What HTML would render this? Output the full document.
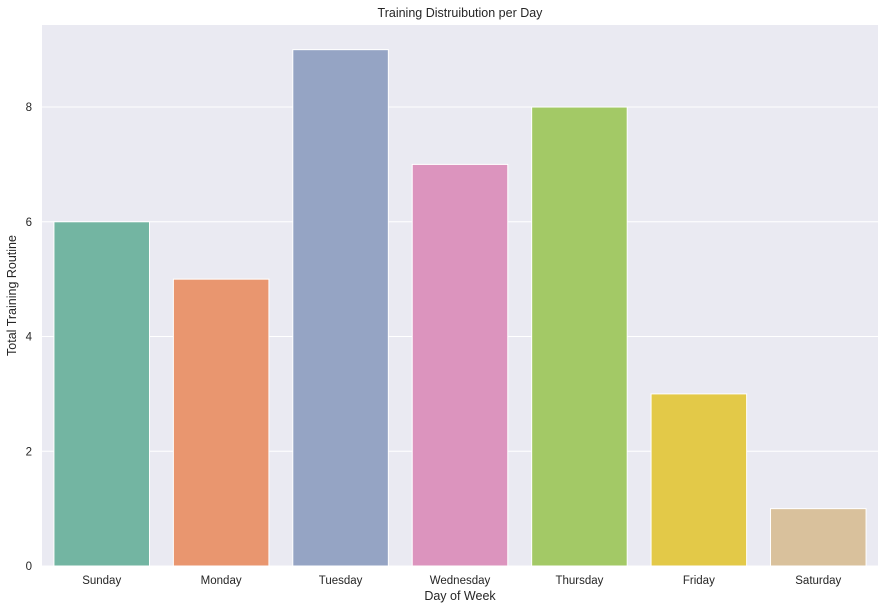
<!DOCTYPE html>
<html><head><meta charset="utf-8"><style>
body{margin:0;background:#fff;}
svg{display:block;font-family:"Liberation Sans","DejaVu Sans",sans-serif;}
</style></head><body>
<svg id="chart" width="884" height="610"></svg>
<script>
const categories=["Sunday","Monday","Tuesday","Wednesday","Thursday","Friday","Saturday"];
const values=[6,5,9,7,8,3,1];
const colors=["#73b5a2","#e9966f","#95a4c4","#dc94be","#a3c966","#e3c948","#d9c19c"];
const yTicks=[0,2,4,6,8];
const NS="http://www.w3.org/2000/svg";
const svg=document.getElementById('chart');
const L=42,R=878,T=25,B=566,YMAX=9.43;
const y=v=>B-(v/YMAX)*(B-T);
const step=(R-L)/categories.length;
const x=i=>L+step*i;
function mk(t,a,p){const e=document.createElementNS(NS,t);for(const k in a)e.setAttribute(k,a[k]);(p||svg).appendChild(e);return e;}
const bg=mk('rect',{x:L,y:T,width:R-L,height:B-T,fill:'#eaeaf2'});


yTicks.forEach(t=>{
 const g=mk('line',{x1:L,x2:R,y1:y(t),y2:y(t),stroke:'#fff','stroke-width':1});
 
 
 const tx=mk('text',{x:L-10,y:y(t)+4,'text-anchor':'end','font-size':11.5,fill:'#262626'});
 tx.textContent=t;
 
 
});
categories.forEach((c,i)=>{
 const w=step*0.8;
 const b=mk('rect',{x:x(i)+step*0.1,y:y(values[i]),width:w,height:B-y(values[i]),fill:colors[i],stroke:'#fff','stroke-width':1});
 
 
 const tx=mk('text',{x:x(i)+step/2,y:B+18,'text-anchor':'middle','font-size':11.5,fill:'#262626'});
 tx.textContent=c;
 
 
});
const title=mk('text',{x:(L+R)/2,y:17,'text-anchor':'middle','font-size':12.5,fill:'#262626'});
title.textContent='Training Distruibution per Day';


const xl=mk('text',{x:(L+R)/2,y:600,'text-anchor':'middle','font-size':12.5,fill:'#262626'});
xl.textContent='Day of Week';


const yl=mk('text',{x:0,y:0,'text-anchor':'middle','font-size':12.5,fill:'#262626',transform:'translate(16,'+((T+B)/2)+') rotate(-90)'});
yl.textContent='Total Training Routine';


</script>
</body></html>
